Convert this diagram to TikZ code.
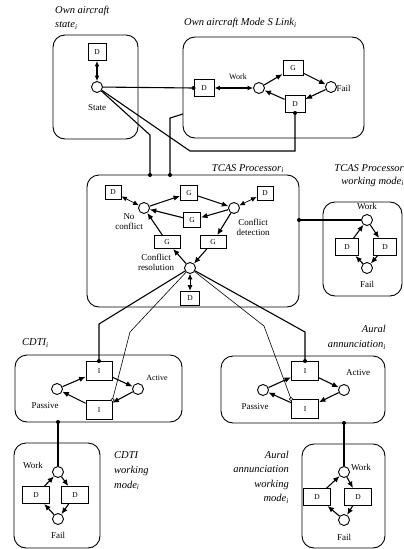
\documentclass[tikz,border=0pt]{standalone}
\usepackage{fontspec}
\setmainfont{Liberation Serif}
\usetikzlibrary{arrows.meta,calc}
\begin{document}
\begin{tikzpicture}[x=1pt,y=-1pt,
 place/.style={circle,draw,line width=0.9pt,minimum size=11pt,inner sep=0pt,fill=white},
 trans/.style={rectangle,draw,line width=0.9pt,minimum width=19pt,minimum height=16pt,inner sep=0pt,font=\fontsize{7.5}{7.5}\selectfont,fill=white},
 module/.style={rectangle,draw,line width=0.9pt,rounded corners=12pt,inner sep=0pt},
 arc/.style={-{Latex[length=6.5pt,width=5.5pt]},line width=1.1pt},
 darc/.style={{Latex[length=5.5pt,width=5pt]}-{Latex[length=5.5pt,width=5pt]},line width=1.1pt},
 link/.style={line width=1.1pt},
 thinlink/.style={line width=0.6pt},
 dot/.style={circle,fill,inner sep=0pt,minimum size=4pt},
 odot/.style={circle,draw,fill=white,inner sep=0pt,minimum size=3.4pt,line width=0.6pt},
 lbl/.style={font=\fontsize{9}{10}\selectfont,align=center,inner sep=0pt},
 slbl/.style={font=\fontsize{8}{9}\selectfont,align=center,inner sep=0pt},
 ttl/.style={font=\fontsize{10.5}{14}\selectfont\itshape,inner sep=0pt},
]
\useasboundingbox (0,0) rectangle (404,549);

% ---------- Own aircraft state
\node[module,minimum width=85pt,minimum height=104pt] (oas) at (95.5,87) {};
\node[ttl,align=left,anchor=north west] (toas) at (55,6) {Own aircraft\\state\textsubscript{i}};
\node[trans,minimum width=18pt,minimum height=17pt] (oasD) at (97,52) {D};
\node[place] (state) at (97,87) {};
\node[lbl] (stateL) at (97,108) {State};
\draw[darc] (oasD) -- (state);

% ---------- Mode S link
\node[module,minimum width=181pt,minimum height=101pt] (modes) at (273.5,87.5) {};
\node[ttl,anchor=west] (tmodes) at (184,23) {Own aircraft Mode S Link\textsubscript{i}};
\node[trans,minimum width=20pt,minimum height=17pt] (mD1) at (204,88) {D};
\node[place] (mWork) at (259,88) {};
\node[trans,minimum width=20pt,minimum height=15pt] (mG) at (293,68) {G};
\node[place] (mFail) at (331,87) {};
\node[trans,minimum width=20pt,minimum height=17pt] (mD2) at (295,104) {D};
\node[slbl] (mWorkL) at (238,77) {Work};
\node[lbl,anchor=west] (mFailL) at (336.5,88) {Fail};
\draw[darc] (mD1) -- (mWork);
\draw[arc] (mWork) -- (mG);
\draw[arc] (mG) -- (mFail);
\draw[arc] (mFail) -- (mD2);
\draw[arc] (mD2) -- (mWork);

% ---------- TCAS processor
\node[module,minimum width=212pt,minimum height=132pt] (tcas) at (193,241) {};
\node[ttl,anchor=base east] (ttcas) at (284,171) {TCAS Processor\textsubscript{i}};
\node[trans,minimum width=16pt,minimum height=14pt] (tD1) at (113,192) {D};
\node[place] (tNo) at (144,208) {};
\node[trans,minimum width=17pt,minimum height=15pt] (tG1) at (189,193) {G};
\node[place] (tDet) at (234,208) {};
\node[trans,minimum width=16pt,minimum height=14pt] (tD2) at (265,193) {D};
\node[trans,minimum width=17pt,minimum height=15pt] (tG2) at (192,220) {G};
\node[trans,minimum width=26pt,minimum height=13pt] (tG3) at (167,242) {G};
\node[trans,minimum width=26pt,minimum height=13pt] (tG4) at (213,242) {G};
\node[place] (tRes) at (190,268) {};
\node[trans,minimum width=19pt,minimum height=14pt] (tD3) at (190,298) {D};
\node[lbl] (tNoL) at (129,222) {No\\conflict};
\node[lbl] (tDetL) at (253,227) {Conflict\\detection};
\node[lbl] (tResL) at (156,262) {Conflict\\resolution};
\draw[darc,line width=0.7pt] (tD1) -- (tNo);
\draw[arc] (tNo) -- (tG1);
\draw[arc] (tG1) -- (tDet);
\draw[darc,line width=0.7pt] (tD2) -- (tDet);
\draw[arc] (tDet) -- (tG2);
\draw[arc] (tG2) -- (tNo);
\draw[arc] (tDet) -- (tG4);
\draw[arc] (tG4) -- (tRes);
\draw[arc] (tRes) -- (tG3);
\draw[arc] (tG3) -- (tNo);
\draw[darc,line width=0.7pt] (tRes) -- (tD3);

% ---------- TCAS processor working mode
\node[module,minimum width=79pt,minimum height=94pt] (twm) at (362.5,249) {};
\node[ttl,align=right,anchor=north east,font=\fontsize{10.5}{13}\selectfont\itshape] (ttwm) at (404,164) {TCAS Processor\\working mode\textsubscript{i}};
\node[place] (wWork) at (367,220) {};
\node[lbl] (wWorkL) at (367,206) {Work};
\node[trans,minimum width=23pt,minimum height=17pt] (wD1) at (347,247) {D};
\node[trans,minimum width=23pt,minimum height=17pt] (wD2) at (385,247) {D};
\node[place] (wFail) at (367,268) {};
\node[lbl] (wFailL) at (367,284) {Fail};
\draw[arc] (wD1) -- (wWork);
\draw[arc] (wWork) -- (wD2);
\draw[arc] (wD2) -- (wFail);
\draw[arc] (wFail) -- (wD1);

% ---------- CDTI
\node[module,minimum width=167pt,minimum height=67pt] (cdti) at (98.5,388.5) {};
\node[ttl,anchor=west] (tcdti) at (22,343) {CDTI\textsubscript{i}};
\node[trans,minimum width=26pt,minimum height=19pt] (cI1) at (99,371) {I};
\node[trans,minimum width=26pt,minimum height=19pt] (cI2) at (99,410) {I};
\node[place] (cPas) at (57,389) {};
\node[place] (cAct) at (138,389) {};
\node[lbl] (cPasL) at (45,406) {Passive};
\node[slbl] (cActL) at (157,378) {Active};
\draw[arc] (cPas) -- (cI1);
\draw[arc] (cI1) -- (cAct);
\draw[arc] (cAct) -- (cI2);
\draw[arc] (cI2) -- (cPas);

% ---------- CDTI working mode
\node[module,minimum width=86pt,minimum height=105pt] (cwm) at (57,495.5) {};
\node[ttl,align=left,anchor=north west,font=\fontsize{10.5}{15}\selectfont\itshape] (tcwm) at (114,451) {CDTI\\working\\mode\textsubscript{i}};
\node[place] (cwWork) at (58,472) {};
\node[lbl] (cwWorkL) at (33,465) {Work};
\node[trans,minimum width=27pt,minimum height=17pt] (cwD1) at (36,495) {D};
\node[trans,minimum width=27pt,minimum height=17pt] (cwD2) at (75,495) {D};
\node[place] (cwFail) at (58,519) {};
\node[lbl] (cwFailL) at (58,535) {Fail};
\draw[arc] (cwD1) -- (cwWork);
\draw[arc] (cwWork) -- (cwD2);
\draw[arc] (cwD2) -- (cwFail);
\draw[arc] (cwFail) -- (cwD1);

% ---------- Aural annunciation
\node[module,minimum width=164pt,minimum height=67pt] (aur) at (303,389.5) {};
\node[ttl,align=right,anchor=north east,font=\fontsize{10.5}{15}\selectfont\itshape] (taur) at (386,325) {Aural\\annunciation\textsubscript{i}};
\node[trans,minimum width=27pt,minimum height=19pt] (aI1) at (305,371) {I};
\node[trans,minimum width=27pt,minimum height=19pt] (aI2) at (305,409) {I};
\node[place] (aPas) at (263,390) {};
\node[place] (aAct) at (344,390) {};
\node[lbl] (aPasL) at (255,407) {Passive};
\node[lbl] (aActL) at (358,373) {Active};
\draw[arc] (aPas) -- (aI1);
\draw[arc] (aI1) -- (aAct);
\draw[arc] (aAct) -- (aI2);
\draw[arc] (aI2) -- (aPas);

% ---------- Aural annunciation working mode
\node[module,minimum width=83pt,minimum height=104pt] (awm) at (343.5,496) {};
\node[ttl,align=right,anchor=north east,font=\fontsize{10.5}{14.3}\selectfont\itshape] (tawm) at (289,451) {Aural\\annunciation\\working\\mode\textsubscript{i}};
\node[place] (awWork) at (344,472) {};
\node[lbl,anchor=west] (awWorkL) at (351,467) {Work};
\node[trans,minimum width=27pt,minimum height=17pt] (awD1) at (317,497) {D};
\node[trans,minimum width=27pt,minimum height=17pt] (awD2) at (358,497) {D};
\node[place] (awFail) at (344,520) {};
\node[lbl] (awFailL) at (344,537) {Fail};
\draw[arc] (awD1) -- (awWork);
\draw[arc] (awWork) -- (awD2);
\draw[arc] (awD2) -- (awFail);
\draw[arc] (awFail) -- (awD1);

% ---------- junction coordinates
\coordinate (tin1) at (150,175);
\coordinate (tin2) at (170,175);
\coordinate (msout) at (183,114);
\coordinate (tout) at (299,220);
\coordinate (cout) at (58,422);
\coordinate (aout) at (344,423);

% ---------- interconnections
\draw[link] (state) -- (mD1.west);
\draw[link] (state) -- (150,135) -- (tin1);
\draw[link] (state) -- (190,151) -- (295,151) -- (mD2.south);
\draw[link] (msout) -- (170,118) -- (tin2);
\draw[link] (tout) -- (wWork);
\draw[link] (tRes) -- (99,324) -- (cI1.north);
\draw[thinlink] (tRes) -- (130,332) -- (cI2.north east);
\draw[thinlink] (tRes) -- (264,326) -- (aI2.north west);
\draw[link] (tRes) -- (305,332) -- (aI1.north);
\draw[link] (cout) -- (cwWork);
\draw[link] (aout) -- (awWork);

\node[dot] (d1) at (mD1.west) {};
\node[dot] (d2) at (mD2.south) {};
\node[dot] (d3) at (tin1) {};
\node[dot] (d4) at (tin2) {};
\node[dot] (d5) at (tout) {};
\node[dot] (d6) at (cI1.north) {};
\node[dot] (d7) at (aI1.north) {};
\node[dot] (d8) at (cout) {};
\node[dot] (d9) at (aout) {};
\node[odot] (o1) at (cI2.north east) {};
\node[odot] (o2) at (aI2.north west) {};
\end{tikzpicture}
\end{document}
